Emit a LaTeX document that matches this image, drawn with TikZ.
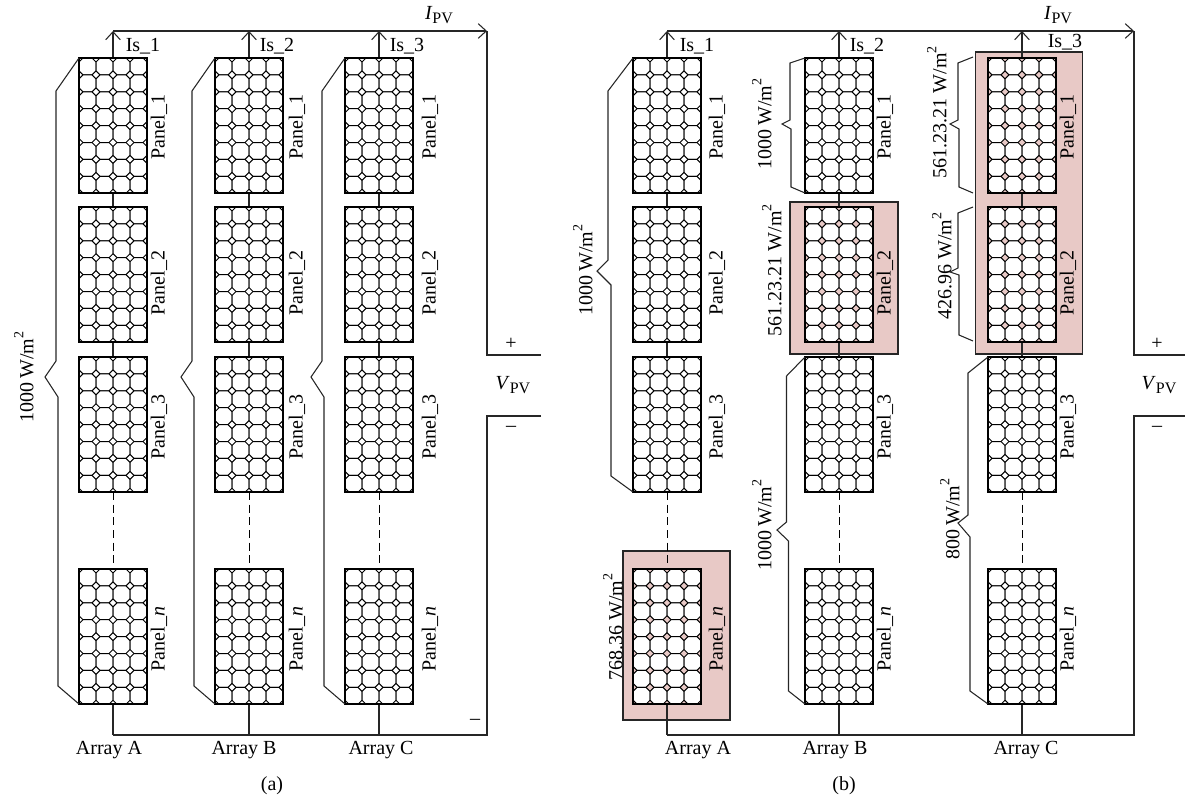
\documentclass[tikz,border=0pt]{standalone}
\usepackage{fontspec}
\setmainfont{Liberation Serif}
\usetikzlibrary{arrows.meta}
\definecolor{pinkbox}{HTML}{E8C9C6}
\newcommand{\subsize}{\fontsize{12}{13}\selectfont}
\newcommand{\wm}{W/m\raisebox{0.5em}{\fontsize{10.5}{12}\selectfont 2}}
\newcommand{\ipv}{\textit{I}\raisebox{-0.2em}{\subsize PV}}
\newcommand{\vpv}{\textit{V}\raisebox{-0.2em}{\subsize PV}}
\tikzset{
  wire/.style={line width=0.8pt,black!85},
  bus/.style={wire,-{Straight Barb[length=6pt,width=11pt,line width=0.8pt]}},
  brace/.style={line width=0.8pt,black!85,line join=miter},
  panelbox/.style={draw=none,minimum width=51pt,minimum height=101.25pt,inner sep=0pt,outer sep=0pt},
  cellline/.style={line width=0.75pt,black,fill=white},
  pinkrect/.style={draw=black!85,line width=0.8pt,fill=pinkbox,inner sep=0pt,outer sep=0pt},
  txt/.style={font=\fontsize{15}{17}\selectfont,inner sep=0pt},
  vtxt/.style={txt,rotate=90},
  dashwire/.style={line width=0.7pt,black,dash pattern=on 6pt off 3.5pt},
}
\newcommand{\panelnode}[3]{\node[panelbox] (#1) at (#2+34,#3+67.5) {};}
\newcommand{\panelcells}[3]{%
  \begin{scope}[shift={(#2,#3)}]
  \foreach \i in {0,1,2,3}{\foreach \j in {0,...,7}{
    \draw[cellline,shift={(\i*17,\j*16.9)}] (4,0)--(13,0)--(17,4)--(17,12.9)--(13,16.9)--(4,16.9)--(0,12.9)--(0,4)--cycle;
  }}
  \end{scope}
  \draw[line width=1pt,black] (#1.south west) rectangle (#1.north east);}
\begin{document}
\begin{tikzpicture}[x=0.75pt,y=-0.75pt]
\useasboundingbox (0,0) rectangle (1185,804);
% pink boxes
\node[pinkrect,minimum width=80.25pt,minimum height=126.75pt] (pinkA) at (676.5,635.5) {};
\node[pinkrect,minimum width=81pt,minimum height=114pt] (pinkB) at (844,278) {};
\node[pinkrect,minimum width=80.6pt,minimum height=226.5pt] (pinkC) at (1029.2,203) {};
% panels
\foreach \nm/\x in {aA/79,aB/215,aC/345,bA/633,bB/805,bC/988}{
  \panelnode{\nm1}{\x}{58}
  \panelnode{\nm2}{\x}{207}
  \panelnode{\nm3}{\x}{357}
  \panelnode{\nm n}{\x}{569}
}
% free ends
\coordinate (topaA) at (113,31); \coordinate (topaB) at (249,31); \coordinate (topaC) at (379,31);
\coordinate (topbA) at (667,31); \coordinate (topbB) at (839,31); \coordinate (topbC) at (1022,31);
\coordinate (botaA) at (113,735); \coordinate (botaB) at (249,735); \coordinate (botaC) at (379,735);
\coordinate (botbA) at (667,735); \coordinate (botbB) at (839,735); \coordinate (botbC) at (1022,735);
\coordinate (aTR) at (487,31); \coordinate (aBR) at (487,735);
\coordinate (bTR) at (1134,31); \coordinate (bBR) at (1134,735);
\coordinate (aP) at (541,355); \coordinate (aPc) at (487,355);
\coordinate (aM) at (541,416); \coordinate (aMc) at (487,416);
\coordinate (bP) at (1185,355); \coordinate (bPc) at (1134,355);
\coordinate (bM) at (1185,416); \coordinate (bMc) at (1134,416);
% wires
\foreach \c in {aA,aB,aC,bA,bB,bC}{
  \draw[bus] (\c1.north) -- (top\c);
  \draw[wire] (\c1.south) -- (\c2.north);
  \draw[wire] (\c2.south) -- (\c3.north);
  \draw[dashwire] (\c3.south) -- (\c n.north);
  \draw[wire] (\c n.south) -- (bot\c);
}
\draw[bus,line width=1pt] (topaA) -- (aTR);
\draw[bus,line width=1pt] (topbA) -- (bTR);
\draw[wire] (aTR) -- (aPc) -- (aP);
\draw[wire] (aM) -- (aMc) -- (aBR) -- (botaA);
\draw[wire] (bTR) -- (bPc) -- (bP);
\draw[wire] (bM) -- (bMc) -- (bBR) -- (botbA);
% cells
\foreach \nm/\x in {aA/79,aB/215,aC/345,bA/633,bB/805,bC/988}{
  \panelcells{\nm1}{\x}{58}
  \panelcells{\nm2}{\x}{207}
  \panelcells{\nm3}{\x}{357}
  \panelcells{\nm n}{\x}{569}
}
% braces (a)
\draw[brace] (aA1.north west)--(56,91)--(56,361)--(45,377)--(58,397)--(58,686)--(aAn.south west);
\draw[brace] (aB1.north west)--(192,91)--(192,361)--(181,377)--(194,397)--(194,686)--(aBn.south west);
\draw[brace] (aC1.north west)--(322,91)--(322,361)--(311,377)--(324,397)--(324,686)--(aCn.south west);
% braces (b)
\draw[brace] (bA1.north west)--(608,91)--(608,260)--(597,271)--(611,285)--(611,476)--(bA3.south west);
\draw[brace] (bB1.north west)--(790,63)--(790,120)--(782,124)--(791,129)--(791,187)--(bB1.south west);
\draw[brace] (bB3.north west)--(786.5,376)--(786.5,522)--(777,530)--(788.5,541)--(788.5,691)--(bBn.south west);
\draw[brace] (973,57)--(958,63)--(958,120)--(950,124)--(959,129)--(959,187)--(973,193);
\draw[brace] (973,207)--(958,213)--(958,268)--(950,272)--(959,275)--(959,335)--(973,341);
\draw[brace] (bC3.north west)--(968,373)--(968,515)--(958,523)--(970,537)--(970,691)--(bCn.south west);
% panel labels
\foreach \nm/\x in {a/159,b/297,c/430,d/717,e/885,f/1068}{
  \node[vtxt] (lab\nm1) at (\x,127) {Panel\_1};
  \node[vtxt] (lab\nm2) at (\x,283) {Panel\_2};
  \node[vtxt] (lab\nm3) at (\x,427) {Panel\_3};
  \node[vtxt] (lab\nm n) at (\x,639) {Panel\_\textit{n}};
}
% current labels
\node[txt] (isa1) at (143,46) {Is\_1};
\node[txt] (isa2) at (277,46) {Is\_2};
\node[txt] (isa3) at (407,46) {Is\_3};
\node[txt] (isb1) at (697,46) {Is\_1};
\node[txt] (isb2) at (867,46) {Is\_2};
\node[txt] (isb3) at (1065,42) {Is\_3};
\node[txt] (ipa) at (439,15) {\ipv};
\node[txt] (ipb) at (1058,15) {\ipv};
\node[txt] (vpa) at (513,385) {\vpv};
\node[txt] (vpb) at (1159,385) {\vpv};
\node[txt] (pa) at (511,344) {+};
\node[txt] (ma) at (511,429) {–};
\node[txt] (pb) at (1157,344) {+};
\node[txt] (mb) at (1157,429) {–};
\node[txt] (mc) at (475,722) {–};
% irradiance labels
\node[vtxt] (w1) at (24,377) {1000\,\wm};
\node[vtxt] (w2) at (583,270) {1000\,\wm};
\node[vtxt] (w3) at (762,124) {1000\,\wm};
\node[vtxt] (w4) at (772,270) {561.23.21 \wm};
\node[vtxt] (w5) at (762,525) {1000\,\wm};
\node[vtxt] (w6) at (613,627) {768.36 \wm};
\node[vtxt] (w7) at (937,112) {561.23.21 \wm};
\node[vtxt] (w8) at (942,266) {426.96 \wm};
\node[vtxt] (w9) at (950,519) {800\,\wm};
% array labels
\node[txt] (arA) at (109,750) {Array A};
\node[txt] (arB) at (244,750) {Array B};
\node[txt] (arC) at (381,750) {Array C};
\node[txt] (brA) at (698,750) {Array A};
\node[txt] (brB) at (835,750) {Array B};
\node[txt] (brC) at (1026,750) {Array C};
\node[txt] (capa) at (272,786) {(a)};
\node[txt] (capb) at (844,786) {(b)};
\end{tikzpicture}
\end{document}
